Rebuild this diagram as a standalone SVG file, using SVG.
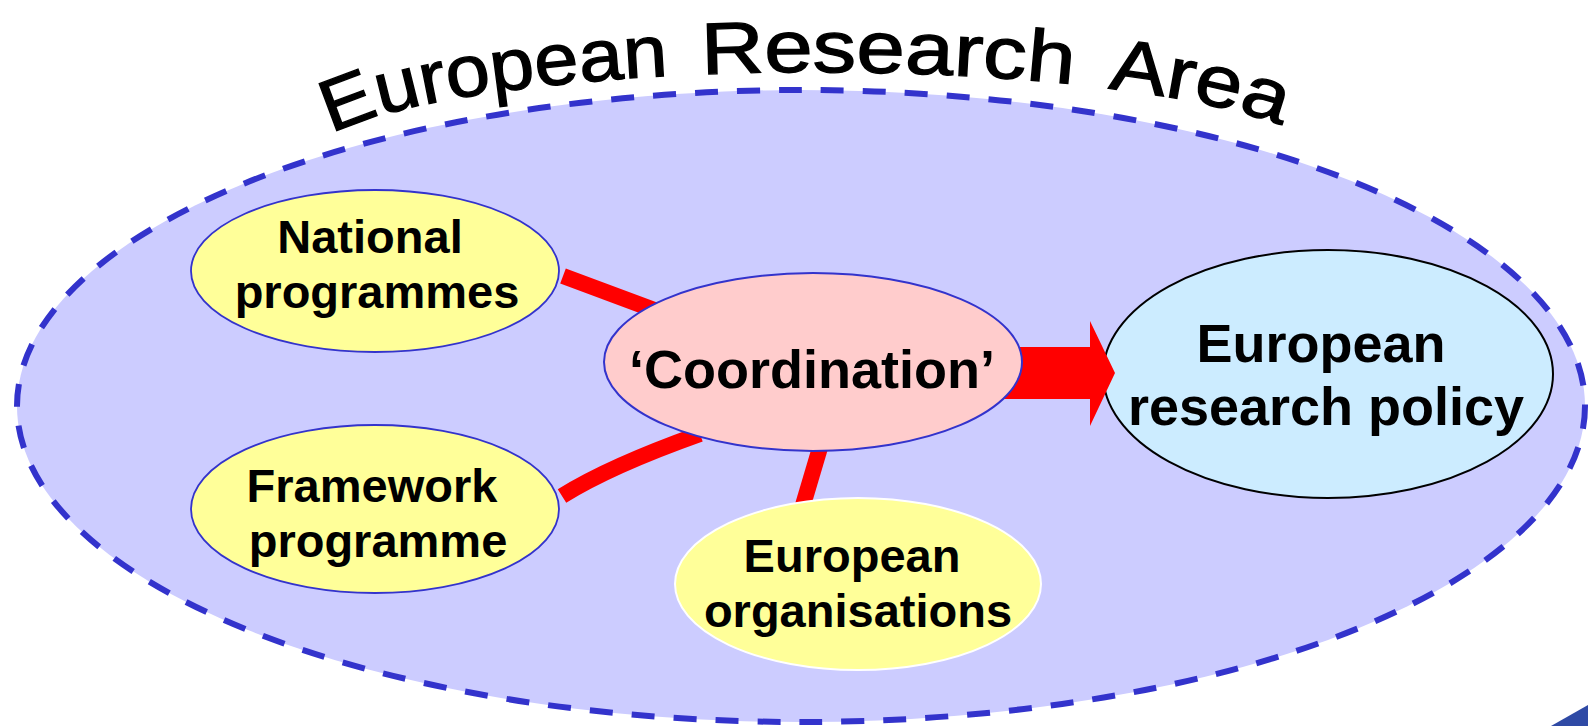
<svg xmlns="http://www.w3.org/2000/svg" xmlns:xlink="http://www.w3.org/1999/xlink" width="1588" height="726" viewBox="0 0 1588 726">
<style>
.lbl{font-family:"Liberation Sans",Arial,sans-serif;font-weight:bold;fill:#000;text-anchor:middle}
.title{font-family:"Liberation Sans",Arial,sans-serif;font-size:73px;fill:#000;stroke:#000;stroke-width:1.3}
.conn{fill:none;stroke:#FF0000;stroke-width:16;stroke-linecap:butt}
.yel{fill:#FFFF99;stroke:#3333CC;stroke-width:1.8}
</style>
<defs>
<path id="arc" d="M 306 163 A 510 91 0 0 1 1326 163"/>
</defs>
<rect width="1588" height="726" fill="#FFFFFF"/>
<g id="era">
<ellipse cx="801" cy="406" rx="784" ry="316" fill="#CCCCFF" stroke="#3333CC" stroke-width="6" stroke-dasharray="23 19"/>
</g>
<g id="title">
<text class="title"><textPath xlink:href="#arc" href="#arc" startOffset="40" textLength="344" lengthAdjust="spacingAndGlyphs">European</textPath><textPath xlink:href="#arc" href="#arc" startOffset="417" textLength="372" lengthAdjust="spacingAndGlyphs">Research</textPath><textPath xlink:href="#arc" href="#arc" startOffset="824" textLength="178" lengthAdjust="spacingAndGlyphs">Area</textPath></text>
</g>
<g id="policy">
<ellipse cx="1328" cy="374" rx="225" ry="124" fill="#CCECFF" stroke="#000" stroke-width="2"/>
<text class="lbl" font-size="54" x="1321" y="362">European</text>
<text class="lbl" font-size="54" x="1326" y="425">research policy</text>
</g>
<g id="connectors">
<path class="conn" d="M 563 276 L 700 327"/>
<path class="conn" d="M 562 496 Q 610 466 700 434"/>
<path class="conn" d="M 822 441 L 803 505"/>
<polygon points="1000,347 1090,347 1090,321 1115,373 1090,426 1090,399 1000,399" fill="#FF0000"/>
</g>
<g id="national">
<ellipse class="yel" cx="375" cy="271" rx="184" ry="81"/>
<text class="lbl" font-size="47" x="370" y="253">National</text>
<text class="lbl" font-size="47" x="377" y="308">programmes</text>
</g>
<g id="framework">
<ellipse class="yel" cx="375" cy="509" rx="184" ry="84"/>
<text class="lbl" font-size="47" x="372" y="502">Framework</text>
<text class="lbl" font-size="47" x="378" y="557">programme</text>
</g>
<g id="coordination">
<ellipse cx="813" cy="362" rx="209" ry="89" fill="#FFCCCC" stroke="#3333CC" stroke-width="2"/>
<text class="lbl" font-size="54" x="812" y="388">‘Coordination’</text>
</g>
<g id="organisations">
<ellipse cx="858" cy="584" rx="183" ry="86" fill="#FFFF99" stroke="#FFFFFF" stroke-width="2"/>
<text class="lbl" font-size="47" x="852" y="572">European</text>
<text class="lbl" font-size="47" x="858" y="627">organisations</text>
</g>
<polygon points="1551,726 1588,705 1588,726" fill="#2F4AA5"/>
</svg>
